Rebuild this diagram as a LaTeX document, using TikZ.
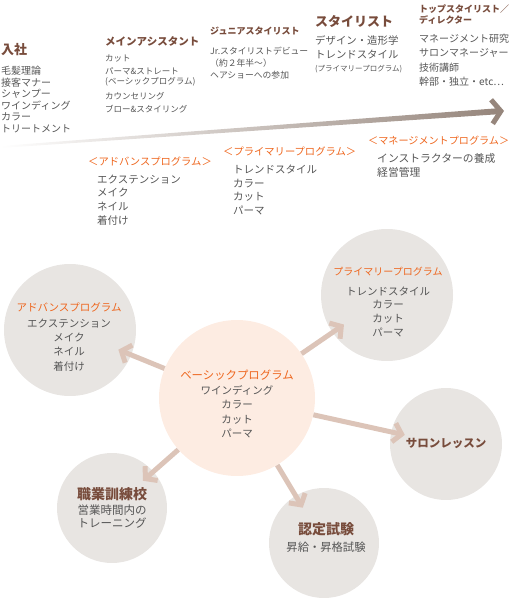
\documentclass[tikz,border=0pt]{standalone}
\usepackage{fontspec}
\setmainfont{Noto Sans CJK JP}
\usetikzlibrary{arrows.meta}

\definecolor{orenji}{RGB}{238,102,30}
\definecolor{chairo}{RGB}{120,76,60}
\definecolor{sumi}{RGB}{85,85,85}
\definecolor{hai}{RGB}{232,229,226}
\definecolor{momo}{RGB}{253,236,226}
\definecolor{yaji}{RGB}{220,196,184}
\definecolor{kassyoku}{RGB}{150,134,124}

\tikzset{
  maru/.style={circle, fill=hai, minimum size=#1, inner sep=0pt},
  yajirushi/.style={draw=yaji, line width=5pt, -{Straight Barb[length=8pt,width=19pt]}, shorten >=-14pt},
  midashi/.style={text=chairo, inner sep=0pt},
  puro/.style={text=orenji, inner sep=0pt},
  hon/.style={text=sumi, align=left, anchor=north west, inner sep=0pt},
  nakahon/.style={text=sumi, align=center, anchor=north, inner sep=0pt}
}

\begin{document}
\begin{tikzpicture}[x=1pt, y=-1pt]
    \useasboundingbox (0,0) rectangle (510,601);

    % 上の矢印
    \shade[left color=white, middle color=kassyoku!75, right color=kassyoku]
      (0,146) -- (0,148) -- (497,114.3) -- (497,108.3) -- cycle;
    \coordinate (sakiA) at (494,111.6);
    \coordinate (sakiB) at (504,110.9);
    \draw[kassyoku, line width=5pt, -{Straight Barb[length=9pt,width=24pt]}] (sakiA) -- (sakiB);

    % キャリアの段階
    \node[midashi, font=\fontsize{13}{13}\selectfont\bfseries, anchor=west] (nyusha) at (1,50) {入社};
    \node[hon, font=\fontsize{10}{11.6}\selectfont] (nyushaL) at (1,66)
      {毛髪理論\\接客マナー\\シャンプー\\ワインディング\\カラー\\トリートメント};

    \node[midashi, font=\fontsize{10.5}{10.5}\selectfont\bfseries, anchor=west] (main) at (105,41) {メインアシスタント};
    \node[hon, font=\fontsize{8.5}{13}\selectfont] (mainL) at (105,55)
      {カット\\パーマ\&ストレート\\[-3pt](ベーシックプログラム)\\[2pt]カウンセリング\\ブロー\&スタイリング};

    \node[midashi, font=\fontsize{9}{9}\selectfont\bfseries, anchor=west] (junior) at (210,31) {ジュニアスタイリスト};
    \node[hon, font=\fontsize{8.8}{12}\selectfont] (juniorL) at (210,47)
      {Jr.スタイリストデビュー\\（約２年半〜）\\ヘアショーへの参加};

    \node[midashi, font=\fontsize{13}{13}\selectfont\bfseries, anchor=west] (stylist) at (315,21) {スタイリスト};
    \node[hon, font=\fontsize{10.4}{13.5}\selectfont] (stylistL) at (315,35.5)
      {デザイン・造形学\\トレンドスタイル\\{\fontsize{7.5}{7.5}\selectfont (プライマリープログラム)}};

    \node[midashi, font=\fontsize{9}{11}\selectfont\bfseries, align=left, anchor=north west] (top) at (419,5)
      {トップスタイリスト／\\ディレクター};
    \node[hon, font=\fontsize{10}{14.3}\selectfont] (topL) at (419,34)
      {マネージメント研究\\サロンマネージャー\\技術講師\\幹部・独立・etc…};

    % プログラム
    \node[puro, font=\fontsize{10.3}{10.3}\selectfont, anchor=west] (advP) at (88,162) {＜アドバンスプログラム＞};
    \node[hon, font=\fontsize{10.5}{13.8}\selectfont] (advPL) at (97,174.5)
      {エクステンション\\メイク\\ネイル\\着付け};

    \node[puro, font=\fontsize{10.3}{10.3}\selectfont, anchor=west] (priP) at (223,152) {＜プライマリープログラム＞};
    \node[hon, font=\fontsize{10.5}{13.8}\selectfont] (priPL) at (233,164.5)
      {トレンドスタイル\\カラー\\カット\\パーマ};

    \node[puro, font=\fontsize{10.1}{10.1}\selectfont, anchor=west] (manP) at (368,141) {＜マネージメントプログラム＞};
    \node[hon, font=\fontsize{10.8}{14}\selectfont] (manPL) at (377,153.5)
      {インストラクターの養成\\経営管理};

    % 円の定義
    \node[maru=132pt] (adv) at (70,330) {};
    \node[maru=132pt] (pri) at (387,295) {};
    \node[maru=156pt, fill=momo] (basic) at (237,398) {};
    \node[maru=112pt] (salon) at (446,444) {};
    \node[maru=110pt] (shoku) at (112,508) {};
    \node[maru=110pt] (nintei) at (324,543) {};

    % 矢印を引く
    \draw[yajirushi] (basic) -- (adv);
    \draw[yajirushi] (basic) -- (pri);
    \draw[yajirushi] (basic) -- (salon);
    \draw[yajirushi] (basic) -- (shoku);
    \draw[yajirushi] (basic) -- (nintei);

    % 円の中の文字
    \node[puro, font=\fontsize{10.5}{10.5}\selectfont] (advT) at (69,307) {アドバンスプログラム};
    \node[nakahon, font=\fontsize{10.5}{14.3}\selectfont] (advL) at (69,318.5)
      {エクステンション\\メイク\\ネイル\\着付け};

    \node[puro, font=\fontsize{10}{10}\selectfont] (priT) at (388,272) {プライマリープログラム};
    \node[nakahon, font=\fontsize{10.5}{13.7}\selectfont] (priL) at (388,286.5)
      {トレンドスタイル\\カラー\\カット\\パーマ};

    \node[puro, font=\fontsize{11.4}{11.4}\selectfont] (basicT) at (237,375) {ベーシックプログラム};
    \node[nakahon, font=\fontsize{10.5}{14.3}\selectfont] (basicL) at (237,385.5)
      {ワインディング\\カラー\\カット\\パーマ};

    \node[midashi, font=\fontsize{11.5}{11.5}\selectfont\bfseries] (salonT) at (446,443) {サロンレッスン};

    \node[midashi, font=\fontsize{14}{14}\selectfont\bfseries] (shokuT) at (112,494) {職業訓練校};
    \node[nakahon, font=\fontsize{11.5}{13}\selectfont] (shokuL) at (112,505)
      {営業時間内の\\トレーニング};

    \node[midashi, font=\fontsize{14}{14}\selectfont\bfseries] (ninteiT) at (326,529) {認定試験};
    \node[text=sumi, inner sep=0pt, font=\fontsize{11.3}{11.3}\selectfont] (ninteiL) at (326,547) {昇給・昇格試験};

  \end{tikzpicture}
\end{document}
